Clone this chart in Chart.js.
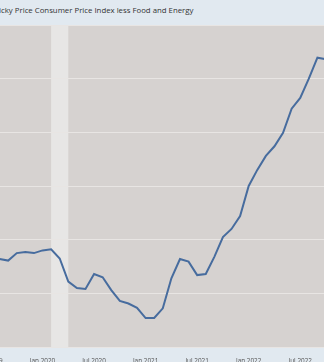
<!DOCTYPE html>
<html>
<head>
<meta charset="utf-8">
<script src="https://cdn.jsdelivr.net/npm/chart.js@4"></script>
<style>
  html, body { margin: 0; padding: 0; }
  #frame { position: relative; width: 324px; height: 362px; overflow: hidden; background: #e1e9f0; }
  #title { position: absolute; left: -8px; top: 5px; font: 7.8px 'Open Sans', sans-serif; color: #333; white-space: nowrap; }
  #wrap { position: absolute; left: -49px; top: 25px; width: 415px; height: 337px; }
</style>
</head>
<body>
<div id="frame">
  <div id="title">Sticky Price Consumer Price Index less Food and Energy</div>
  <div id="wrap"><canvas id="chart"></canvas></div>
</div>
<script>
const months = [
  '2019-07', '2019-08', '2019-09', '2019-10', '2019-11', '2019-12',
  '2020-01', '2020-02', '2020-03', '2020-04', '2020-05', '2020-06',
  '2020-07', '2020-08', '2020-09', '2020-10', '2020-11', '2020-12',
  '2021-01', '2021-02', '2021-03', '2021-04', '2021-05', '2021-06',
  '2021-07', '2021-08', '2021-09', '2021-10', '2021-11', '2021-12',
  '2022-01', '2022-02', '2022-03', '2022-04', '2022-05', '2022-06',
  '2022-07', '2022-08', '2022-09', '2022-10'
];

// percent change from year ago
const values = [
  null, 2.64, 2.61, 2.75, 2.77, 2.75,
  2.80, 2.82, 2.65, 2.22, 2.10, 2.08,
  2.36, 2.30, 2.06, 1.86, 1.81, 1.73,
  1.54, 1.54, 1.72, 2.28, 2.64, 2.59,
  2.34, 2.36, 2.68, 3.05, 3.20, 3.44,
  4.00, 4.30, 4.56, 4.74, 4.99, 5.44,
  5.64, 6.00, 6.39, 6.36
];

const tickMonths = ['2019-07', '2020-01', '2020-07', '2021-01', '2021-07', '2022-01', '2022-07'];
const tickLabels = ['Jul 2019', 'Jan 2020', 'Jul 2020', 'Jan 2021', 'Jul 2021', 'Jan 2022', 'Jul 2022'];

const recession = ['2020-02', '2020-04'];

const plotBackground = {
  id: 'plotBackground',
  beforeDraw(chart) {
    const { ctx, chartArea: a, scales: { x } } = chart;
    ctx.save();
    ctx.fillStyle = '#d6d2d0';
    ctx.fillRect(a.left, a.top, a.width, a.height);
    const x0 = x.getPixelForValue(months.indexOf(recession[0]));
    const x1 = x.getPixelForValue(months.indexOf(recession[1]));
    ctx.fillStyle = '#e7e6e5';
    ctx.fillRect(x0, a.top, x1 - x0, a.height);
    ctx.restore();
  }
};

new Chart(document.getElementById('chart'), {
  type: 'line',
  data: {
    labels: months,
    datasets: [{
      label: 'Sticky Price CPI less Food and Energy',
      data: values,
      borderColor: '#476c9e',
      borderWidth: 2,
      pointRadius: 0,
      tension: 0,
      fill: false
    }]
  },
  options: {
    responsive: true,
    maintainAspectRatio: false,
    animation: false,
    layout: { padding: { left: 40, right: 40, top: 0, bottom: 0 } },
    plugins: { legend: { display: false }, tooltip: { enabled: false } },
    scales: {
      x: {
        grid: { display: false },
        border: { display: false },
        afterFit: s => { s.height = 15; },
        ticks: {
          autoSkip: false,
          maxRotation: 0,
          padding: 2,
          color: '#555',
          font: { family: 'Open Sans', size: 6.4 },
          callback: (v, i) => {
            const k = tickMonths.indexOf(months[i]);
            return k >= 0 ? tickLabels[k] : '';
          }
        }
      },
      y: {
        min: 1,
        max: 7,
        border: { display: false },
        afterFit: s => { s.width = 0; },
        grid: { color: '#e8e5e3', lineWidth: 1, drawTicks: false },
        ticks: { display: false, stepSize: 1 }
      }
    }
  },
  plugins: [plotBackground]
});
</script>
</body>
</html>
